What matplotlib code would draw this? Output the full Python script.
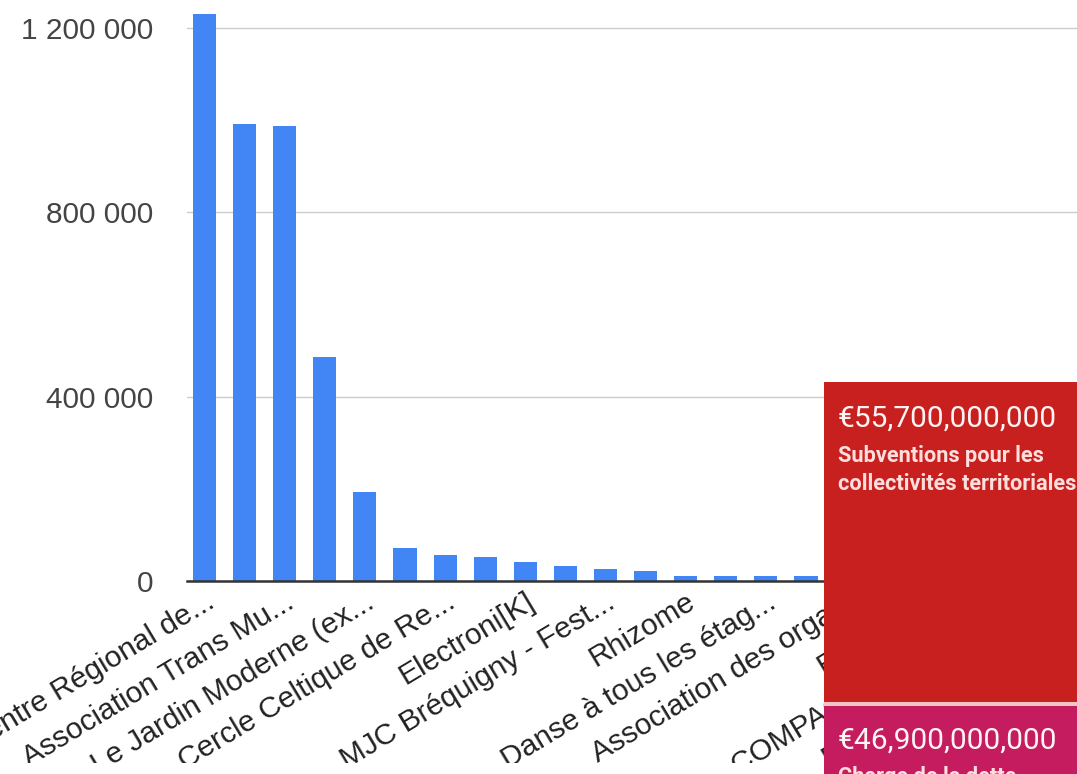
import matplotlib
matplotlib.use("Agg")
import matplotlib.pyplot as plt
from matplotlib.patches import Rectangle
from matplotlib.ticker import FuncFormatter

# bar values (subventions, euros)
values = [1232000, 993000, 988000, 486000, 193000, 72000, 56500, 52000,
          41300, 31000, 24500, 20000, 11000, 11000, 10500, 10500,
          9500, 9000, 8500, 8000, 8000, 7500, 7000]

# only every other bar carries a label
label_pos = [0, 2, 4, 6, 8, 10, 12, 14, 16, 18, 20, 22]
labels = ["Centre Régional de...", "Association Trans Mu...",
          "Le Jardin Moderne (ex...", "Cercle Celtique de Re...",
          "Electroni[K]", "MJC Bréquigny - Fest...", "Rhizome",
          "Danse à tous les étag...", "Association des orga...",
          "Ensemble", "COMPAGNIE DU VEN...",
          "Fédération des Amica..."]

yticks = [0, 400000, 800000, 1200000]

# overlay tiles (right side of the screenshot)
tile_amounts = ["€55,700,000,000", "€46,900,000,000"]
tile_names = [["Subventions pour les", "collectivités territoriales"],
              ["Charge de la dette"]]

W, H = 1077, 774
fig = plt.figure(figsize=(W / 100, H / 100), dpi=100)
fig.patch.set_facecolor("white")

def fx(x):
    return x / W

def fy(y):
    return 1 - y / H

x0_px, y0_px, ytop_px = 187, 580.7, 28.3
step = 40.1
right_px = 1300
ax = fig.add_axes([fx(x0_px), fy(y0_px), (right_px - x0_px) / W, y0_px / H])
per_px = 1200000 / (y0_px - ytop_px)
ax.set_ylim(0, y0_px * per_px)
xleft = -(204.5 - x0_px) / step
ax.set_xlim(xleft, xleft + (right_px - x0_px) / step)

ax.bar(range(len(values)), values, width=0.575, color="#4285f4", zorder=2)
ax.axhline(0, color="#333333", lw=1.8, zorder=3, clip_on=False)

ax.set_yticks(yticks)
ax.yaxis.set_major_formatter(FuncFormatter(lambda v, p: f"{int(v):,}".replace(",", " ")))
ax.yaxis.grid(True, color="#cccccc", lw=1)
ax.set_axisbelow(True)
for s in ax.spines.values():
    s.set_visible(False)

ax.set_xticks(label_pos)
ax.set_xticklabels(labels, rotation=31, ha="right", va="top",
                   rotation_mode="anchor", family="Liberation Sans",
                   fontsize=21.5, color="#222222")
ax.tick_params(axis="x", length=0, pad=5)
ax.tick_params(axis="y", length=0, pad=24, labelsize=21.5, labelcolor="#444444")
for t in ax.get_yticklabels():
    t.set_family("Liberation Sans")

# white strip at the very bottom (end of the captured chart area)
fig.add_artist(Rectangle((0, 0), fx(824), 11 / H, transform=fig.transFigure,
                         facecolor="white", edgecolor="none", zorder=10))

# overlay tiles
fig.add_artist(Rectangle((fx(824), fy(702)), fx(W - 824), (702 - 381.5) / H,
                         transform=fig.transFigure, facecolor="#c8201e",
                         edgecolor="none", zorder=10))
fig.add_artist(Rectangle((fx(824), fy(706)), fx(W - 824), 4 / H,
                         transform=fig.transFigure, facecolor="#f2c4c8",
                         edgecolor="none", zorder=10))
fig.add_artist(Rectangle((fx(824), 0), fx(W - 824), (H - 706) / H,
                         transform=fig.transFigure, facecolor="#c41c5e",
                         edgecolor="none", zorder=10))

amount_base = [427, 749]
name_base = [[462, 490], [783]]
for amount, names, ab, nb in zip(tile_amounts, tile_names, amount_base, name_base):
    fig.text(fx(838), fy(ab), amount, family="Roboto", fontsize=21.5,
             color="#fff4f4", va="baseline", ha="left", zorder=11)
    for line, b in zip(names, nb):
        fig.text(fx(838), fy(b), line, family="Roboto",
                 fontsize=15.7, weight="bold", color="#ffdede",
                 va="baseline", ha="left", zorder=11)

fig.savefig("out.png", dpi=100)
